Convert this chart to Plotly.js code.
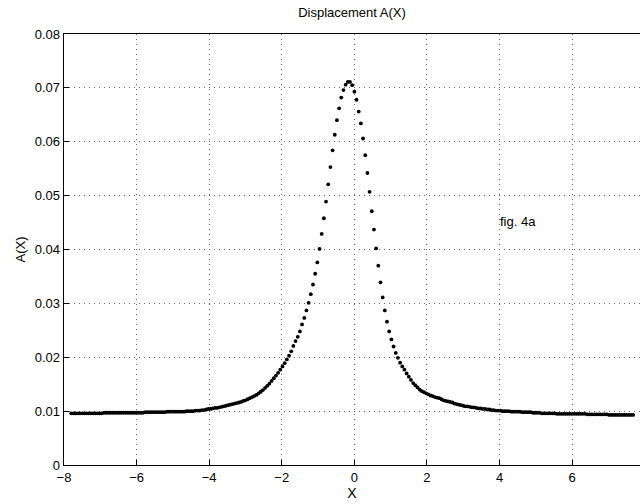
<!DOCTYPE html>
<html>
<head>
<meta charset="utf-8">
<script src="https://cdn.plot.ly/plotly-3.0.1.min.js"></script>
<style>html,body{margin:0;padding:0;background:#fff;}#chart{width:640px;height:504px;}</style>
</head>
<body>
<div id="chart"></div>
<script>
// Sample positions X (spacing ~0.06)
const xValues = [
-7.80,-7.74,-7.68,-7.62,-7.56,-7.50,-7.44,-7.38,-7.32,-7.26,
-7.20,-7.14,-7.08,-7.02,-6.96,-6.90,-6.84,-6.78,-6.72,-6.66,
-6.60,-6.54,-6.48,-6.42,-6.36,-6.30,-6.24,-6.18,-6.12,-6.06,
-6.00,-5.94,-5.88,-5.82,-5.76,-5.70,-5.64,-5.58,-5.52,-5.46,
-5.40,-5.34,-5.28,-5.22,-5.16,-5.10,-5.04,-4.98,-4.92,-4.86,
-4.80,-4.74,-4.68,-4.62,-4.56,-4.50,-4.44,-4.38,-4.32,-4.26,
-4.20,-4.14,-4.08,-4.02,-3.96,-3.90,-3.84,-3.78,-3.72,-3.66,
-3.60,-3.54,-3.48,-3.42,-3.36,-3.30,-3.24,-3.18,-3.12,-3.06,
-3.00,-2.94,-2.88,-2.82,-2.76,-2.70,-2.64,-2.58,-2.52,-2.46,
-2.40,-2.34,-2.28,-2.22,-2.16,-2.10,-2.04,-1.98,-1.92,-1.86,
-1.80,-1.74,-1.68,-1.62,-1.56,-1.50,-1.44,-1.38,-1.32,-1.26,
-1.20,-1.14,-1.08,-1.02,-0.96,-0.90,-0.84,-0.78,-0.72,-0.66,
-0.60,-0.54,-0.48,-0.42,-0.36,-0.30,-0.24,-0.18,-0.12,-0.06,
0.00,
0.06,0.12,0.18,0.24,0.30,0.36,0.42,0.48,0.54,0.60,
0.66,0.72,0.78,0.84,0.90,0.96,1.02,1.08,1.14,1.20,
1.26,1.32,1.38,1.44,1.50,1.56,1.62,1.68,1.74,1.80,
1.86,1.92,1.98,2.04,2.10,2.16,2.22,2.28,2.34,2.40,
2.46,2.52,2.58,2.64,2.70,2.76,2.82,2.88,2.94,3.00,
3.06,3.12,3.18,3.24,3.30,3.36,3.42,3.48,3.54,3.60,
3.66,3.72,3.78,3.84,3.90,3.96,4.02,4.08,4.14,4.20,
4.26,4.32,4.38,4.44,4.50,4.56,4.62,4.68,4.74,4.80,
4.86,4.92,4.98,5.04,5.10,5.16,5.22,5.28,5.34,5.40,
5.46,5.52,5.58,5.64,5.70,5.76,5.82,5.88,5.94,6.00,
6.06,6.12,6.18,6.24,6.30,6.36,6.42,6.48,6.54,6.60,
6.66,6.72,6.78,6.84,6.90,6.96,7.02,7.08,7.14,7.20,
7.26,7.32,7.38,7.44,7.50,7.56,7.62,7.68
];

// Displacement A(X)
const aValues = [
0.0096,0.0096,0.0096,0.0096,0.0096,0.0096,0.0096,0.0096,0.0096,0.0096,
0.0096,0.0096,0.0096,0.0096,0.0096,0.0097,0.0097,0.0097,0.0097,0.0097,
0.0097,0.0097,0.0097,0.0097,0.0097,0.0097,0.0097,0.0097,0.0097,0.0097,
0.0097,0.0097,0.0097,0.0097,0.0098,0.0098,0.0098,0.0098,0.0098,0.0098,
0.0098,0.0098,0.0098,0.0098,0.0099,0.0099,0.0099,0.0099,0.0099,0.0099,
0.0099,0.0099,0.0099,0.0100,0.0100,0.0100,0.0100,0.0101,0.0101,0.0101,
0.0102,0.0102,0.0103,0.0104,0.0104,0.0105,0.0106,0.0106,0.0107,0.0108,
0.0109,0.0110,0.0111,0.0112,0.0113,0.0114,0.0115,0.0116,0.0117,0.0119,
0.0120,0.0122,0.0124,0.0126,0.0128,0.0130,0.0133,0.0136,0.0139,0.0143,
0.0147,0.0151,0.0156,0.0161,0.0166,0.0171,0.0177,0.0183,0.0189,0.0196,
0.0203,0.0211,0.0221,0.0230,0.0238,0.0248,0.0261,0.0273,0.0287,0.0301,
0.0317,0.0335,0.0355,0.0376,0.0401,0.0429,0.0458,0.0489,0.0521,0.0553,
0.0584,0.0613,0.0640,0.0662,0.0682,0.0696,0.0706,0.0711,0.0711,0.0705,
0.0693,
0.0678,0.0656,0.0634,0.0606,0.0575,0.0542,0.0507,0.0471,0.0437,0.0402,
0.0370,0.0339,0.0311,0.0287,0.0266,0.0248,0.0233,0.0220,0.0208,0.0199,
0.0190,0.0183,0.0177,0.0170,0.0164,0.0158,0.0152,0.0148,0.0144,0.0140,
0.0137,0.0135,0.0133,0.0131,0.0129,0.0128,0.0126,0.0125,0.0124,0.0122,
0.0120,0.0119,0.0118,0.0117,0.0116,0.0114,0.0113,0.0112,0.0111,0.0110,
0.0109,0.0109,0.0108,0.0107,0.0107,0.0106,0.0105,0.0105,0.0104,0.0104,
0.0103,0.0103,0.0102,0.0102,0.0101,0.0101,0.0101,0.0100,0.0100,0.0100,
0.0100,0.0099,0.0099,0.0099,0.0099,0.0099,0.0098,0.0098,0.0098,0.0098,
0.0098,0.0097,0.0097,0.0097,0.0097,0.0096,0.0096,0.0096,0.0096,0.0096,
0.0096,0.0096,0.0095,0.0095,0.0095,0.0095,0.0095,0.0095,0.0095,0.0095,
0.0095,0.0095,0.0095,0.0095,0.0095,0.0095,0.0094,0.0094,0.0094,0.0094,
0.0094,0.0094,0.0094,0.0094,0.0094,0.0094,0.0093,0.0093,0.0093,0.0093,
0.0093,0.0093,0.0093,0.0093,0.0093,0.0093,0.0093,0.0093
];

const xTicks = [-8, -6, -4, -2, 0, 2, 4, 6];
const yTicks = [0, 0.01, 0.02, 0.03, 0.04, 0.05, 0.06, 0.07, 0.08];
const yTickText = ['0', '0.01', '0.02', '0.03', '0.04', '0.05', '0.06', '0.07', '0.08'];

const FONT = 'Liberation Sans, Arial, Helvetica, sans-serif';

const trace = {
  x: xValues,
  y: aValues,
  type: 'scatter',
  mode: 'markers',
  marker: {color: '#000', size: 3.8, line: {width: 0}},
  hoverinfo: 'skip',
  showlegend: false
};

const axisCommon = {
  showline: true,
  linecolor: '#000',
  linewidth: 1.4,
  mirror: true,
  ticks: 'inside',
  ticklen: 5,
  tickcolor: '#000',
  tickwidth: 1,
  showgrid: true,
  gridcolor: '#666',
  gridwidth: 1,
  griddash: '1px,4px',
  zeroline: false,
  tickfont: {family: FONT, size: 13, color: '#000'}
};

const layout = {
  width: 640,
  height: 504,
  margin: {l: 64, r: 0, t: 34, b: 39, pad: 0},
  paper_bgcolor: '#fff',
  plot_bgcolor: '#fff',
  font: {family: FONT, size: 13, color: '#000'},
  title: {
    text: 'Displacement A(X)',
    font: {family: FONT, size: 13, color: '#000'},
    x: 0.5, xref: 'paper', xanchor: 'center',
    y: 1, yref: 'container', yanchor: 'top', pad: {t: 8}
  },
  xaxis: Object.assign({}, axisCommon, {
    range: [-8, 7.87],
    tickvals: xTicks,
    ticktext: xTicks.map(v => v < 0 ? '\u2212' + Math.abs(v) : String(v)),
    title: {text: 'X', font: {family: FONT, size: 14, color: '#000'}, standoff: 2}
  }),
  yaxis: Object.assign({}, axisCommon, {
    range: [0, 0.08],
    tickvals: yTicks,
    ticktext: yTickText,
    title: {text: 'A(X)', font: {family: FONT, size: 13, color: '#000'}, standoff: 6}
  }),
  annotations: [{
    x: 3.95, y: 0.0452, xref: 'x', yref: 'y',
    text: 'fig. 4a', showarrow: false, xanchor: 'left', yanchor: 'middle',
    font: {family: FONT, size: 13, color: '#000'}
  }]
};

Plotly.newPlot('chart', [trace], layout, {displayModeBar: false, staticPlot: true});
</script>
</body>
</html>
